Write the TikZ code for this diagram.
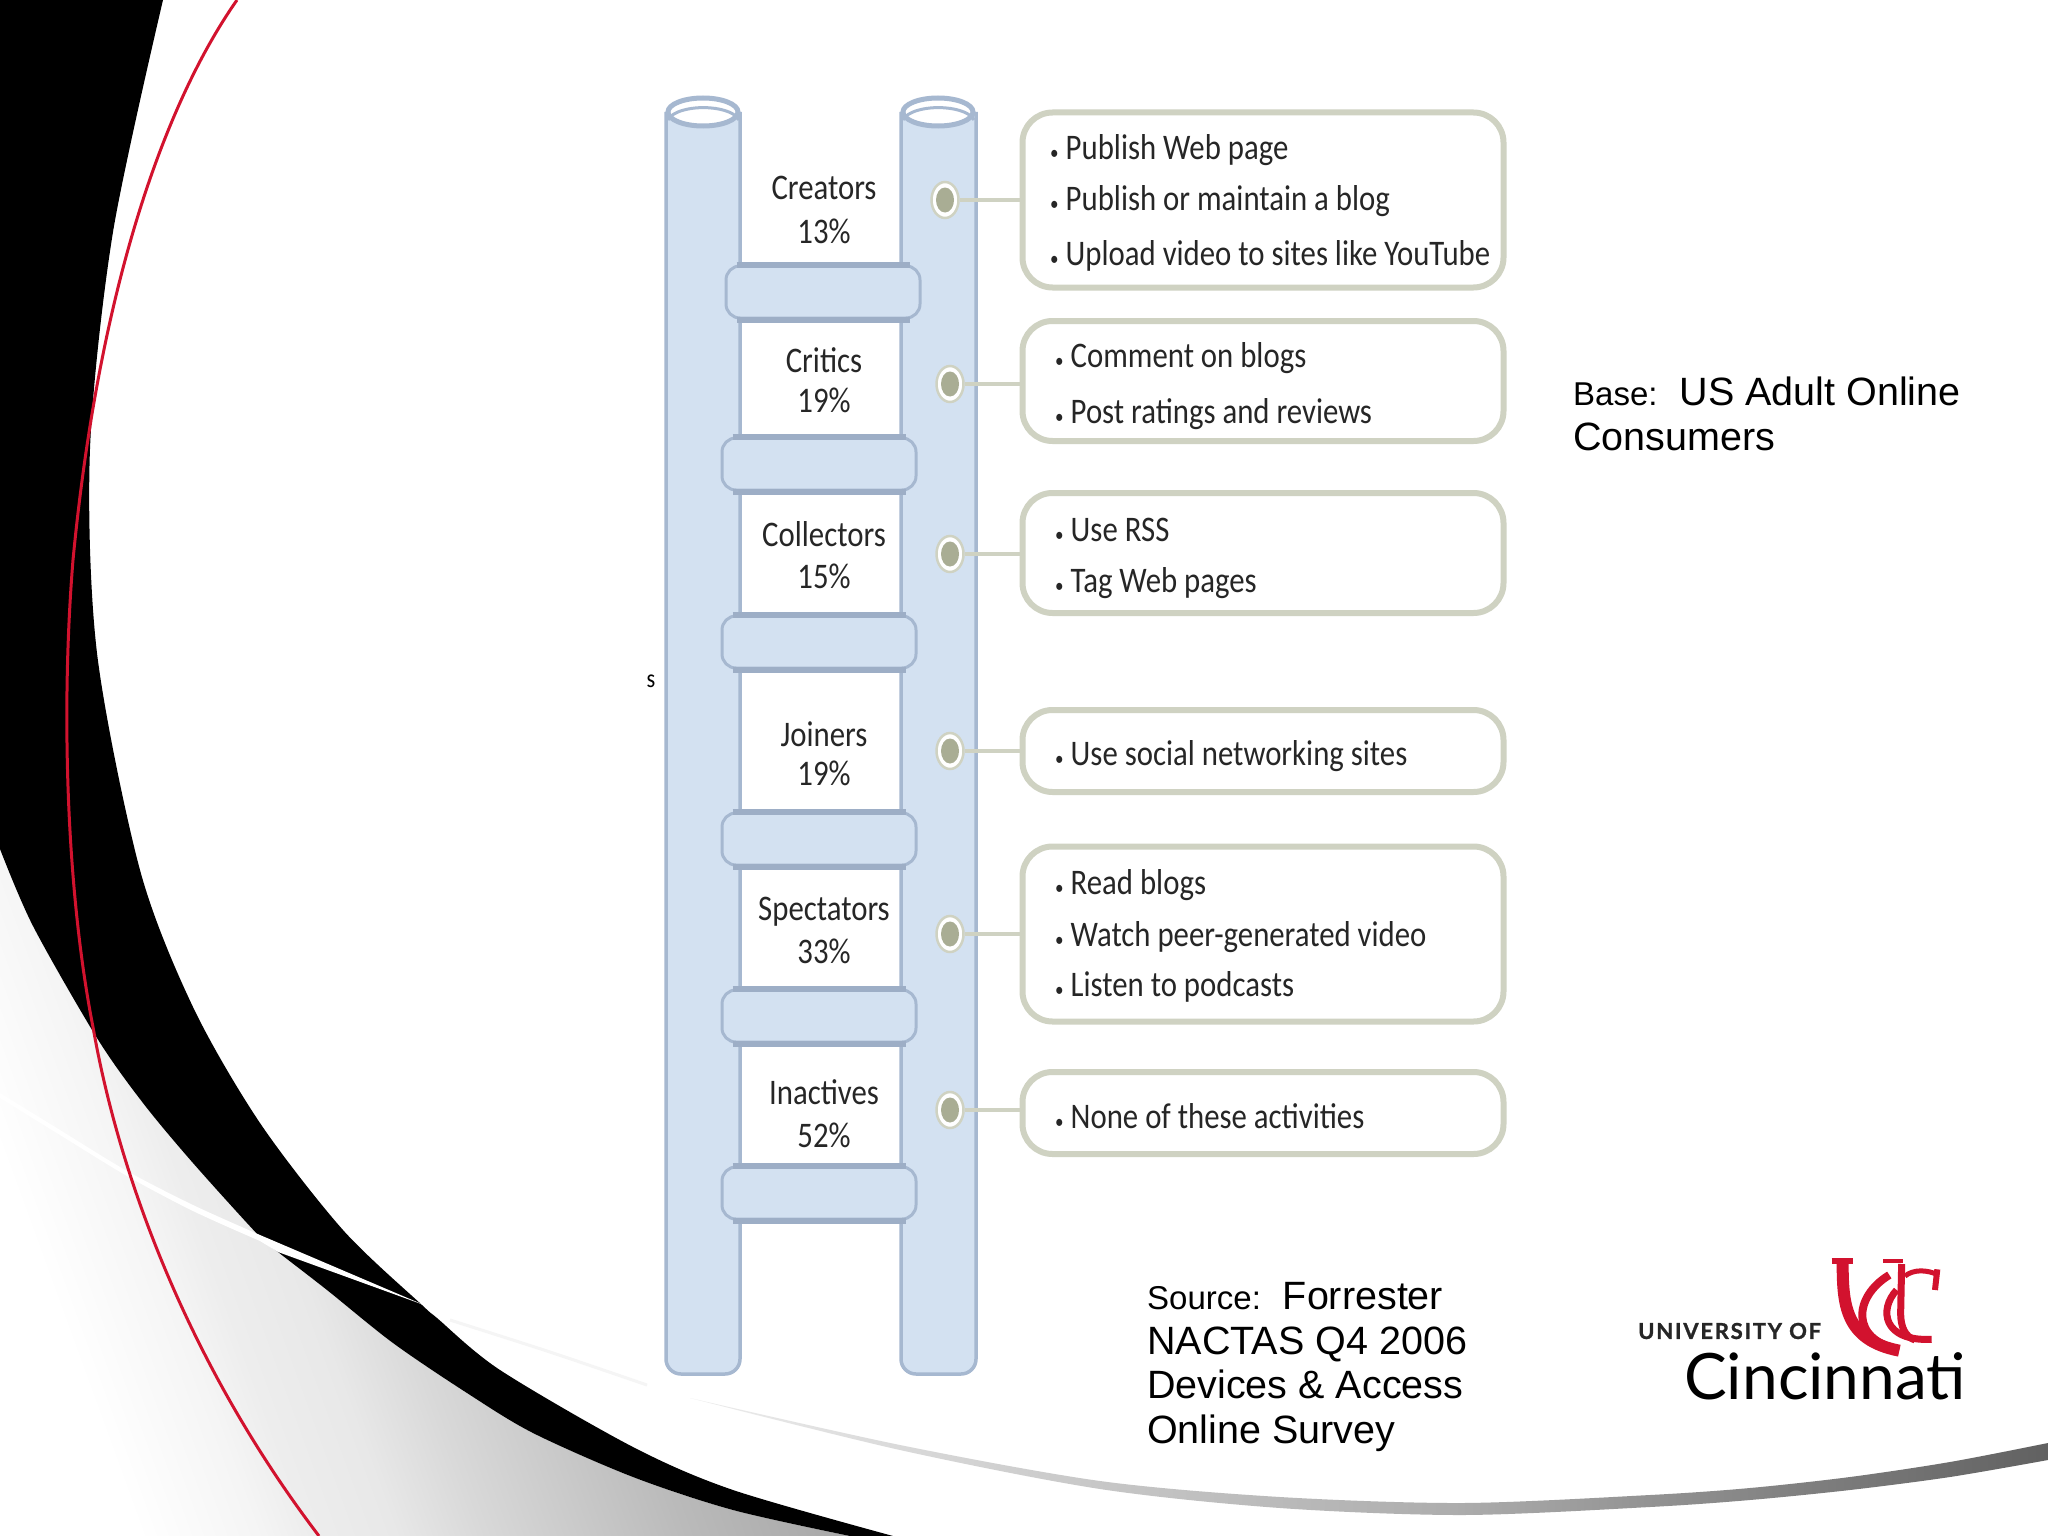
\documentclass[tikz,border=0pt]{standalone}
\usepackage{fontspec}
\setmainfont{Liberation Sans}
\newfontfamily\ladfont[FakeStretch=0.855]{Carlito}
\newfontfamily\logofont{Lato}
\definecolor{railfill}{HTML}{D3E1F1}
\definecolor{railline}{HTML}{A6B8D0}
\definecolor{railbar}{HTML}{9DAEC6}
\definecolor{boxline}{HTML}{CFD2C2}
\definecolor{dotin}{HTML}{A9AD94}
\definecolor{ucred}{HTML}{D2122E}
\pgfdeclarehorizontalshading{grayarea}{100bp}{rgb(0bp)=(1,1,1);rgb(26bp)=(1,1,1);rgb(33bp)=(.96,.96,.96);rgb(36bp)=(.93,.93,.93);rgb(41bp)=(.91,.91,.91);rgb(46bp)=(.85,.85,.85);rgb(53bp)=(.78,.78,.78);rgb(58bp)=(.73,.73,.73);rgb(75bp)=(.6,.6,.6);rgb(100bp)=(.6,.6,.6)}
\pgfdeclarehorizontalshading{swoosh}{100bp}{rgb(0bp)=(.93,.93,.93);rgb(25bp)=(.93,.93,.93);rgb(40bp)=(.78,.78,.78);rgb(53bp)=(.68,.68,.68);rgb(60bp)=(.58,.58,.58);rgb(75bp)=(.38,.38,.38);rgb(100bp)=(.38,.38,.38)}
\newcommand{\blt}{{\fontsize{20}{20}\selectfont •}\kern7pt}
\tikzset{
  x=1pt,y=-1pt,
  rail/.style={draw=railline,line width=3.5pt,fill=railfill,rounded corners=15pt},
  railtop/.style={draw=railline,line width=5pt,fill=white},
  rung/.style={draw=railline,line width=3pt,fill=railfill,rounded corners=14pt,minimum width=194pt,minimum height=52pt,inner sep=0pt},
  rungbar/.style={draw=railbar,line width=6pt},
  actbox/.style={draw=boxline,line width=6pt,fill=white,rounded corners=30pt,inner sep=0pt},
  dotouter/.style={ellipse,draw=boxline,line width=2.5pt,fill=white,minimum width=27pt,minimum height=36pt,inner sep=0pt},
  link/.style={draw=boxline,line width=4pt},
  lab/.style={font=\ladfont\fontsize{36}{36}\selectfont,text=black!85,inner sep=0pt},
  act/.style={font=\ladfont\fontsize{36}{36}\selectfont,text=black!85,inner sep=0pt,anchor=west},
  note/.style={font=\fontsize{39.5}{44.8}\selectfont,align=left,inner sep=0pt,anchor=north west,text=black},
}
\usetikzlibrary{shapes.geometric}
\begin{document}
\begin{tikzpicture}
\useasboundingbox (0,0) rectangle (2048,1536);
\fill[white] (0,0) rectangle (2048,1536);
% background swooshes
\path[shading=grayarea,shading angle=20] plot[smooth] coordinates {(0,849) (33,926) (97,1038) (143,1103) (193,1163) (260,1237) (278,1252) (327,1290) (393,1343) (467,1393) (533,1433) (633,1477) (733,1510) (850,1536)} -- (0,1536) -- cycle;
\fill[black] (0,0) -- plot[smooth] coordinates {(163,0) (113,232) (90,449) (97,653) (140,870) (193,1007) (260,1123) (343,1230) (422,1305) (437,1318) (500,1370) (633,1447) (733,1490) (893,1536)} -- plot[smooth] coordinates {(850,1536) (733,1510) (633,1477) (533,1433) (467,1393) (393,1343) (327,1290) (278,1252) (260,1237) (193,1163) (143,1103) (97,1038) (33,926) (0,849)} -- cycle;
\fill[white] plot[smooth] coordinates {(0,1093) (60,1130) (127,1171) (193,1205) (260,1235)} -- (424,1305) -- (278,1252) -- plot[smooth] coordinates {(260,1241) (193,1211) (127,1176) (60,1135) (0,1098)} -- cycle;
\draw[black!4,line width=3pt] plot[smooth] coordinates {(450,1320) (550,1352) (647,1385)};
\path[shading=swoosh] plot[smooth] coordinates {(690,1398) (900,1445) (1100,1481) (1280,1497) (1463,1503) (1650,1495) (1750,1488) (1850,1477) (1950,1462) (2048,1443)} -- plot[smooth] coordinates {(2048,1460) (1950,1477) (1850,1490) (1750,1500) (1650,1507) (1463,1515) (1280,1508) (1100,1489) (900,1450) (690,1398)} -- cycle;
\draw[ucred,line width=3pt] (237,0) .. controls (160,110) and (98,300) .. (73,560) .. controls (60,720) and (68,900) .. (93,1027) .. controls (118,1170) and (185,1360) .. (319,1536);
% ladder
\draw[rail] (666,112) -- (666,1374) -- (740,1374) -- (740,112);
\draw[rail] (901,112) -- (901,1374) -- (976,1374) -- (976,112);
\draw[railtop] (703,112) ellipse [x radius=35, y radius=14];
\draw[railtop] (938,112) ellipse [x radius=35, y radius=14];
\draw[railline,line width=3pt] (668,120) arc[start angle=190,end angle=350,x radius=36,y radius=15];
\draw[railline,line width=3pt] (903,120) arc[start angle=190,end angle=350,x radius=36,y radius=15];
\node[rung] (r1) at (823,292) {};
\node[rung] (r2) at (819,464) {};
\node[rung] (r3) at (819,642) {};
\node[rung] (r4) at (819,839) {};
\node[rung] (r5) at (819,1016) {};
\node[rung] (r6) at (819,1193) {};
\foreach \r in {r1,r2,r3,r4,r5,r6}{
  \draw[rungbar] ([xshift=12pt]\r.north west) -- ([xshift=-12pt]\r.north east);
  \draw[rungbar] ([xshift=12pt]\r.south west) -- ([xshift=-12pt]\r.south east);
}
% ladder labels
\node[lab] (l1a) at (824,188) {Creators};
\node[lab] (l1b) at (824,231) {13\%};
\node[lab] (l2a) at (824,360) {Critics};
\node[lab] (l2b) at (824,400) {19\%};
\node[lab] (l3a) at (824,534) {Collectors};
\node[lab] (l3b) at (824,576) {15\%};
\node[lab] (l4a) at (824,734) {Joiners};
\node[lab] (l4b) at (824,773) {19\%};
\node[lab] (l5a) at (824,912) {Spectators};
\node[lab] (l5b) at (824,951) {33\%};
\node[lab] (l6a) at (824,1092) {Inactives};
\node[lab] (l6b) at (824,1135) {52\%};
% activity boxes
\node[actbox,minimum width=481pt,minimum height=175pt] (b1) at (1263,200) {};
\node[actbox,minimum width=481pt,minimum height=120pt] (b2) at (1263,381) {};
\node[actbox,minimum width=481pt,minimum height=120pt] (b3) at (1263,553) {};
\node[actbox,minimum width=481pt,minimum height=82pt] (b4) at (1263,751) {};
\node[actbox,minimum width=481pt,minimum height=175pt] (b5) at (1263,934) {};
\node[actbox,minimum width=481pt,minimum height=82pt] (b6) at (1263,1113) {};
% dots and connectors
\node[dotouter] (c1) at (945,200) {};
\node[dotouter] (c2) at (950,384) {};
\node[dotouter] (c3) at (950,554) {};
\node[dotouter] (c4) at (950,751) {};
\node[dotouter] (c5) at (950,934) {};
\node[dotouter] (c6) at (950,1110) {};
\foreach \i in {1,...,6}{
  \fill[dotin] (c\i) ellipse [x radius=9, y radius=12.5];
  \draw[link] (c\i.east) -- (b\i.west |- c\i.east);
}
% activity text
\node[act] (t11) at (1050,150) {\blt Publish Web page};
\node[act] (t12) at (1050,201) {\blt Publish or maintain a blog};
\node[act] (t13) at (1050,256) {\blt Upload video to sites like YouTube};
\node[act] (t21) at (1055,358) {\blt Comment on blogs};
\node[act] (t22) at (1055,414) {\blt Post ratings and reviews};
\node[act] (t31) at (1055,530) {\blt Use RSS};
\node[act] (t32) at (1055,583) {\blt Tag Web pages};
\node[act] (t41) at (1055,756) {\blt Use social networking sites};
\node[act] (t51) at (1055,885) {\blt Read blogs};
\node[act] (t52) at (1055,937) {\blt Watch peer-generated video};
\node[act] (t53) at (1055,987) {\blt Listen to podcasts};
\node[act] (t61) at (1055,1116) {\blt None of these activities};
\node[font=\ladfont\fontsize{26}{26}\selectfont,inner sep=0pt] (stray) at (651,681) {s};
% notes
\node[note] (base) at (1573,376.5) {{\fontsize{33}{44.8}\selectfont Base:}\ \ US Adult Online\\Consumers};
\node[note] (src) at (1147,1282) {{\fontsize{33}{44.8}\selectfont Source:}\ \ Forrester\\NACTAS Q4 2006\\Devices \& Access\\Online Survey};
% logo
\node[font=\logofont\bfseries\fontsize{22}{22}\selectfont,inner sep=0pt,anchor=west,text=black!85] (uo) at (1638,1331) {\addfontfeature{LetterSpace=8,FakeBold=1.2}UNIVERSITY OF};
\node[font=\logofont\fontsize{64}{64}\selectfont,inner sep=0pt,anchor=base west] (cin) at (1684,1399) {Cincinnati};
\begin{scope}[shift={(1620,1240)},x=0.3333pt,y=-0.3333pt,ucred,line cap=butt]
\draw[line width=12pt] (668,62) .. controls (668,190) and (672,300) .. (838,332);
\draw[line width=6pt] (635,62) -- (698,62);
\draw[line width=8pt] (808,105) .. controls (700,170) and (690,300) .. (838,328);
\draw[line width=5pt] (855,108) .. controls (880,88) and (920,88) .. (955,105);
\draw[line width=6pt] (952,88) -- (945,150);
\draw[line width=7pt] (830,150) .. controls (775,210) and (790,305) .. (935,298);
\draw[line width=4pt] (790,62) -- (850,62);
\draw[line width=7pt] (845,72) -- (842,220) .. controls (842,260) and (855,290) .. (885,300);
\end{scope}
\end{tikzpicture}
\end{document}
